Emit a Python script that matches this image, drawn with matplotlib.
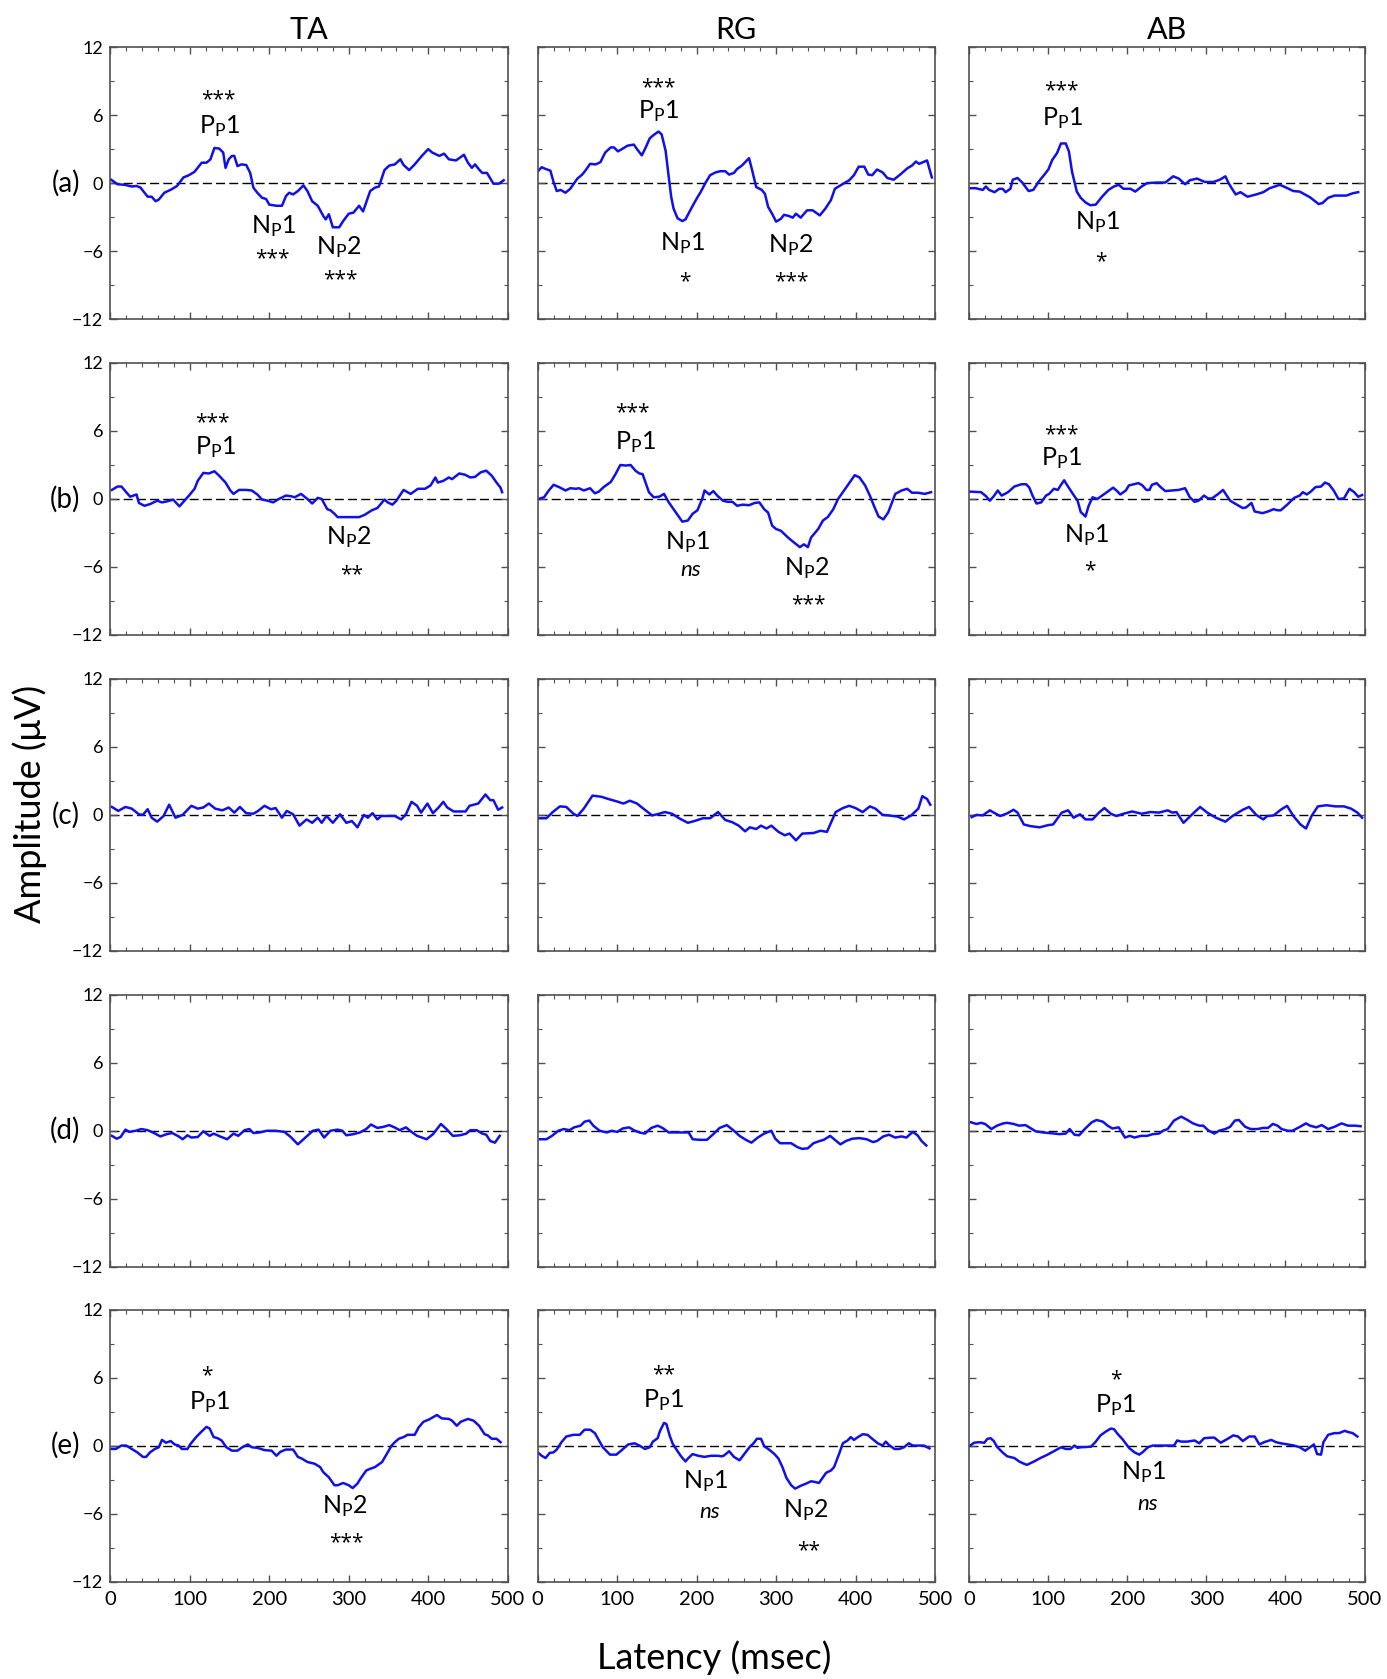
import matplotlib
matplotlib.use('Agg')
import matplotlib.pyplot as plt
from matplotlib.ticker import MultipleLocator
import matplotlib.transforms as mtrans

plt.rcParams['font.family'] = ['Lato', 'DejaVu Sans']
plt.rcParams['mathtext.default'] = 'regular'

# ---------------- labels ----------------
columns = ['TA', 'RG', 'AB']
rows = ['(a)', '(b)', '(c)', '(d)', '(e)']
x_ticks = [0, 100, 200, 300, 400, 500]
y_ticks = [-12, -6, 0, 6, 12]

# ---------------- data: (latency ms, amplitude uV) ----------------
TA_a = [(1,0.3),(9,-0.1),(18,-0.15),(27,-0.3),(33,-0.25),(38,-0.4),(47,-1.2),(52,-1.2),(57,-1.6),(61,-1.45),
        (68,-0.85),(77,-0.55),(84,-0.25),(92,0.5),(99,0.7),(106,1.0),(115,1.8),(121,1.8),(126,2.1),(131,3.1),
        (137,3.05),(142,2.7),(145,1.35),(149,2.1),(153,2.4),(156,2.4),(160,1.5),(165,1.65),(171,1.6),(176,0.9),
        (180,-0.4),(185,-0.85),(191,-1.3),(196,-1.4),(200,-1.9),(209,-2.0),(216,-2.0),(221,-1.15),(225,-0.85),(230,-1.0),
        (236,-0.7),(243,-0.2),(248,-0.7),(254,-1.6),(261,-2.0),(268,-2.9),(271,-3.2),(275,-2.75),(280,-3.9),(288,-3.9),
        (293,-3.35),(300,-2.7),(306,-2.6),(313,-2.0),(318,-2.5),(322,-1.7),(327,-0.7),(333,-0.4),(338,-0.3),(345,1.15),
        (351,1.55),(358,1.65),(365,2.1),(369,1.6),(376,1.15),(383,1.65),(392,2.4),(400,3.0),(405,2.7),(414,2.4),
        (420,2.6),(426,2.1),(435,2.0),(445,2.5),(450,1.8),(455,1.35),(459,1.65),(464,1.2),(468,0.9),(474,0.9),
        (482,-0.05),(489,-0.05),(495,0.25)]
RG_a = [(1,1.1),(5,1.4),(10,1.25),(16,1.1),(20,0.1),(24,-0.7),(29,-0.6),(35,-0.85),(41,-0.5),(50,0.4),(56,0.75),
        (60,1.1),(66,1.7),(73,1.65),(79,1.85),(85,2.7),(92,3.15),(96,3.15),(101,2.8),(106,3.0),(113,3.3),(121,3.4),
        (125,3.0),(131,2.45),(136,3.15),(141,3.95),(146,4.25),(152,4.55),(156,4.3),(161,2.85),(165,0.5),(168,-1.2),
        (171,-2.25),(176,-3.1),(182,-3.35),(186,-3.2),(192,-2.4),(199,-1.5),(205,-0.8),(211,0.0),(217,0.7),(224,0.95),
        (230,1.05),(236,1.05),(241,0.75),(247,0.9),(251,1.25),(257,1.55),(266,2.2),(270,1.1),(275,-0.35),(282,-0.6),
        (286,-0.95),(290,-2.1),(295,-2.7),(300,-3.4),(306,-3.15),(310,-2.8),(316,-2.9),(321,-3.05),(325,-2.7),(331,-3.05),
        (339,-2.4),(346,-2.4),(355,-2.85),(362,-2.25),(369,-1.5),(374,-0.5),(381,-0.2),(392,0.25),(398,0.7),(404,1.45),
        (411,1.45),(416,0.75),(421,0.7),(427,1.2),(434,0.95),(440,0.45),(448,0.3),(457,0.8),(465,1.3),(471,1.55),
        (476,1.9),(480,1.7),(490,2.0),(496,0.5)]
AB_a = [(0,-0.45),(8,-0.45),(17,-0.6),(21,-0.3),(25,-0.6),(32,-0.8),(38,-0.5),(42,-0.5),(46,-0.8),(52,-0.5),
        (55,0.3),(61,0.45),(67,0.05),(75,-0.7),(81,-0.6),(88,0.15),(95,0.75),(100,1.2),(105,2.05),(111,2.65),
        (116,3.5),(122,3.5),(126,2.8),(130,1.0),(136,-0.75),(141,-1.3),(147,-1.7),(153,-1.95),(160,-1.9),(168,-1.2),
        (176,-0.6),(183,-0.3),(189,-0.15),(195,-0.5),(204,-0.5),(210,-0.75),(218,-0.3),(225,0.0),(237,0.05),(248,0.05),
        (258,0.6),(265,0.4),(273,-0.1),(279,0.25),(288,0.4),(298,0.1),(309,0.1),(317,0.3),(324,0.6),(328,0.0),
        (332,-0.45),(337,-1.0),(343,-0.8),(352,-1.2),(363,-1.0),(372,-0.8),(380,-0.45),(393,-0.15),(401,-0.4),(410,-0.7),
        (418,-0.75),(431,-1.25),(442,-1.85),(447,-1.75),(454,-1.3),(462,-1.1),(477,-1.1),(485,-0.9),(492,-0.8)]

TA_b = [(2,0.8),(9,1.1),(14,1.1),(20,0.6),(25,0.2),(33,0.4),(36,-0.35),(43,-0.6),(50,-0.45),(59,-0.15),(65,-0.3),
        (72,-0.2),(79,-0.05),(87,-0.65),(92,-0.25),(99,0.3),(106,0.9),(110,1.6),(117,2.3),(124,2.25),(131,2.45),
        (137,2.05),(145,1.45),(151,0.75),(155,0.45),(162,0.8),(171,0.8),(178,0.75),(185,0.4),(191,-0.05),(198,-0.15),
        (205,-0.3),(212,0.0),(221,0.3),(227,0.25),(232,0.15),(240,0.45),(248,0.0),(254,-0.4),(261,0.1),(266,0.0),
        (273,-0.9),(277,-1.0),(282,-1.3),(286,-1.6),(313,-1.6),(320,-1.4),(329,-1.0),(336,-0.8),(345,-0.05),(349,-0.3),
        (355,-0.5),(360,-0.15),(369,0.8),(374,0.6),(378,0.45),(387,0.9),(396,0.9),(403,1.2),(409,1.9),(412,1.45),
        (419,1.6),(426,1.9),(430,1.75),(439,2.25),(446,2.15),(453,1.9),(459,1.95),(466,2.35),(473,2.5),(480,2.05),
        (486,1.45),(491,1.0),(493,0.6)]
RG_b = [(1,0.0),(8,0.15),(14,0.75),(20,1.25),(27,1.05),(35,0.75),(41,0.95),(48,0.9),(52,0.95),(58,0.75),(66,0.95),
        (72,0.5),(77,0.65),(83,1.05),(92,1.5),(98,2.2),(104,3.0),(111,2.95),(117,3.0),(123,2.5),(128,2.25),(132,2.2),
        (140,0.6),(146,0.15),(153,0.2),(159,0.45),(165,-0.3),(174,-1.2),(182,-2.0),(189,-1.9),(195,-1.3),(201,-1.0),
        (207,0.0),(210,0.75),(216,0.4),(221,0.7),(226,0.3),(233,-0.15),(239,-0.25),(245,-0.25),(251,-0.6),(258,-0.5),
        (266,-0.55),(273,-0.35),(279,-0.3),(285,-0.9),(290,-1.2),(295,-2.35),(300,-2.65),(306,-2.8),(315,-3.4),(321,-3.75),
        (330,-4.25),(335,-4.0),(340,-4.25),(344,-3.4),(353,-2.65),(359,-1.9),(365,-1.6),(372,-0.9),(378,0.0),(384,0.6),
        (391,1.3),(399,2.1),(405,1.9),(412,1.2),(418,0.3),(424,-0.75),(429,-1.55),(435,-1.8),(441,-1.2),(450,0.45),
        (458,0.75),(465,0.9),(471,0.55),(479,0.55),(487,0.45),(495,0.6)]
AB_b = [(1,0.65),(15,0.6),(21,0.25),(26,-0.15),(31,0.25),(36,0.75),(41,0.3),(49,0.6),(57,1.1),(66,1.3),(72,1.3),
        (76,1.0),(80,0.3),(85,-0.4),(91,-0.3),(97,0.3),(101,0.45),(107,0.9),(112,0.8),(116,1.25),(120,1.65),(124,1.2),
        (131,0.45),(137,-0.15),(141,-1.15),(147,-1.55),(151,-0.6),(156,0.15),(162,0.0),(168,0.3),(175,0.65),(182,1.0),
        (187,0.7),(191,0.4),(198,0.75),(202,1.2),(208,1.3),(214,1.4),(219,1.2),(224,0.8),(228,0.8),(231,1.25),(237,1.4),
        (242,1.05),(248,0.7),(256,0.75),(265,0.8),(273,0.95),(279,0.15),(285,-0.25),(290,-0.15),(297,0.3),(302,0.05),
        (307,0.05),(315,0.45),(321,0.8),(330,-0.15),(336,-0.4),(346,-0.8),(350,-0.75),(357,-0.35),(361,-1.1),(371,-1.25),
        (378,-1.1),(385,-0.9),(390,-1.0),(394,-1.0),(403,-0.45),(411,0.1),(418,0.3),(422,0.6),(427,0.4),(432,0.65),
        (438,1.05),(445,1.1),(450,1.45),(455,1.3),(461,0.75),(467,0.0),(474,0.05),(481,0.9),(487,0.6),(492,0.2),(497,0.35)]

TA_c = [(2,0.7),(10,0.35),(19,0.7),(27,0.55),(36,0.05),(41,0.0),(47,0.5),(52,-0.25),(59,-0.6),(67,-0.1),(74,0.9),
        (82,-0.25),(91,0.0),(102,0.8),(110,0.55),(117,0.65),(124,1.0),(132,0.55),(141,0.4),(149,0.65),(156,0.2),
        (163,0.7),(171,0.15),(180,0.1),(186,0.35),(194,0.8),(202,0.5),(208,0.6),(216,-0.25),(222,0.35),(230,0.05),
        (238,-0.95),(247,-0.4),(254,-0.7),(261,-0.25),(266,-0.7),(272,-0.1),(280,-0.7),(289,0.05),(297,-0.7),(304,-0.55),
        (311,-1.1),(319,0.0),(324,-0.25),(330,0.15),(336,-0.4),(341,-0.1),(349,-0.1),(358,-0.1),(366,-0.4),(372,0.05),
        (379,1.15),(386,0.8),(391,0.2),(399,1.0),(406,0.15),(413,0.65),(419,1.15),(424,0.65),(432,0.3),(447,0.3),
        (452,0.8),(463,1.0),(472,1.8),(478,1.3),(482,1.3),(488,0.45),(493,0.65)]
RG_c = [(2,-0.3),(11,-0.3),(19,0.25),(28,0.75),(36,0.7),(45,0.1),(50,-0.1),(58,0.55),(69,1.7),(80,1.6),(89,1.4),
        (99,1.2),(108,1.0),(116,1.25),(125,1.0),(133,0.55),(144,-0.05),(153,0.1),(160,0.25),(169,0.1),(178,-0.3),
        (189,-0.7),(197,-0.55),(208,-0.3),(217,-0.3),(227,0.25),(236,-0.45),(245,-0.65),(253,-0.95),(261,-1.45),(267,-1.1),
        (275,-1.25),(281,-0.95),(288,-1.2),(294,-0.95),(303,-1.5),(311,-1.8),(317,-1.65),(325,-2.25),(333,-1.65),(347,-1.6),
        (356,-1.4),(364,-1.5),(375,0.25),(384,0.6),(392,0.8),(400,0.6),(409,0.25),(418,0.75),(425,0.55),(434,0.0),
        (442,-0.05),(453,-0.15),(461,-0.4),(470,-0.05),(479,0.55),(484,1.65),(490,1.4),(494,0.9)]
AB_c = [(3,-0.2),(9,0.0),(17,-0.05),(26,0.4),(31,0.2),(39,-0.1),(47,0.1),(56,0.45),(61,0.2),(69,-0.85),(78,-1.0),
        (89,-1.1),(100,-0.9),(106,-0.85),(117,0.2),(125,0.4),(132,-0.25),(140,0.05),(147,-0.4),(156,-0.4),(164,0.2),
        (171,0.6),(179,0.1),(186,-0.1),(195,0.1),(206,0.3),(218,0.1),(229,0.25),(240,0.2),(251,0.4),(257,0.2),
        (262,0.25),(271,-0.7),(282,0.05),(292,0.7),(301,0.2),(312,-0.25),(324,-0.6),(333,-0.1),(346,0.45),(354,0.7),
        (363,0.0),(372,-0.4),(377,-0.1),(385,-0.05),(394,0.45),(402,0.8),(410,-0.1),(419,-0.85),(426,-1.2),(433,-0.1),
        (441,0.75),(452,0.85),(463,0.75),(474,0.75),(483,0.55),(491,0.2),(497,-0.25)]

TA_d = [(2,-0.45),(8,-0.7),(13,-0.55),(19,0.1),(24,-0.1),(32,0.0),(39,0.15),(47,0.05),(55,-0.2),(63,-0.5),(71,-0.3),
        (78,-0.2),(86,-0.5),(91,-0.75),(97,-0.4),(102,-0.6),(110,-0.55),(117,-0.05),(125,-0.45),(130,-0.25),(138,-0.5),
        (147,-0.75),(155,-0.25),(161,-0.45),(169,0.05),(175,0.15),(180,-0.2),(188,-0.15),(197,0.0),(208,0.0),(219,-0.1),
        (227,-0.55),(236,-1.2),(247,-0.5),(255,0.0),(262,0.1),(269,-0.6),(277,0.0),(286,0.1),(292,0.0),(297,-0.4),
        (306,-0.3),(314,-0.15),(322,0.15),(328,0.55),(336,0.25),(344,0.35),(351,0.5),(359,0.25),(364,0.05),(372,0.3),
        (379,-0.1),(386,-0.45),(398,-0.75),(406,-0.3),(416,0.6),(423,0.15),(431,-0.45),(440,-0.4),(448,-0.25),(453,0.05),
        (461,0.05),(468,-0.25),(473,-0.35),(478,-0.9),(484,-1.05),(490,-0.45)]
RG_d = [(3,-0.75),(11,-0.75),(18,-0.45),(26,0.0),(33,0.15),(40,0.05),(46,0.3),(54,0.45),(59,0.8),(65,0.9),(70,0.45),
        (78,0.0),(87,-0.15),(93,0.0),(100,-0.1),(107,0.2),(115,0.3),(121,0.05),(128,-0.15),(135,-0.25),(143,0.25),
        (151,0.45),(157,0.25),(165,-0.15),(173,-0.15),(182,-0.15),(190,-0.15),(195,-0.75),(204,-0.8),(213,-0.8),(221,-0.3),
        (229,0.25),(238,0.5),(247,0.0),(254,-0.45),(262,-0.8),(269,-1.05),(277,-0.6),(285,-0.25),(294,0.0),(299,-0.7),
        (305,-1.1),(312,-1.1),(319,-1.1),(327,-1.45),(333,-1.6),(340,-1.55),(347,-1.1),(355,-0.9),(360,-0.8),(368,-0.45),
        (374,-0.8),(381,-1.2),(388,-0.9),(396,-0.7),(405,-0.65),(414,-0.75),(422,-1.0),(427,-0.9),(435,-0.5),(442,-0.35),
        (450,-0.6),(458,-0.5),(464,-0.6),(472,-0.1),(478,-0.4),(483,-0.9),(489,-1.3)]
AB_d = [(2,0.75),(9,0.6),(15,0.7),(20,0.6),(28,0.15),(35,0.45),(43,0.65),(48,0.7),(56,0.6),(63,0.45),(71,0.5),
        (77,0.25),(84,-0.05),(93,-0.15),(101,-0.2),(108,-0.25),(114,-0.3),(122,-0.25),(127,0.15),(133,-0.35),(139,-0.4),
        (146,0.15),(155,0.75),(161,0.95),(169,0.8),(175,0.45),(181,0.2),(189,0.3),(197,-0.6),(203,-0.45),(209,-0.6),
        (217,-0.45),(225,-0.45),(232,-0.3),(240,-0.25),(245,0.0),(251,0.15),(259,0.9),(268,1.25),(276,0.95),(283,0.65),
        (291,0.45),(296,0.45),(302,0.05),(310,-0.25),(316,0.0),(324,0.15),(330,0.35),(336,0.9),(341,0.95),(349,0.35),
        (356,0.15),(364,0.15),(372,0.25),(378,0.25),(384,0.6),(390,0.45),(395,0.15),(403,0.0),(409,0.0),(417,0.3),
        (426,0.65),(431,0.45),(439,0.3),(446,0.5),(454,0.15),(462,0.35),(471,0.65),(479,0.45),(488,0.45),(495,0.4)]

TA_e = [(1,-0.3),(7,-0.3),(14,0.0),(20,0.0),(27,-0.3),(34,-0.6),(41,-1.0),(45,-1.0),(50,-0.6),(56,-0.3),(61,-0.15),
        (65,0.5),(70,0.25),(76,0.4),(81,0.1),(86,0.0),(90,-0.3),(97,-0.3),(101,0.15),(108,0.75),(115,1.25),(121,1.65),
        (125,1.5),(130,0.75),(135,0.65),(140,0.45),(146,-0.15),(153,-0.45),(160,-0.45),(166,-0.15),(173,0.1),(178,-0.15),
        (185,-0.2),(194,-0.4),(203,-0.45),(209,-0.9),(214,-0.55),(221,-0.35),(230,-0.35),(236,-1.0),(241,-1.15),(248,-1.45),
        (257,-1.6),(264,-1.9),(268,-2.35),(275,-2.8),(282,-3.5),(286,-3.5),(293,-3.3),(300,-3.5),(305,-3.75),(311,-3.35),
        (315,-2.9),(322,-2.2),(327,-2.05),(333,-1.9),(342,-1.45),(349,-0.6),(354,0.0),(358,0.3),(363,0.6),(369,0.75),
        (374,0.95),(383,0.95),(388,1.6),(394,2.1),(401,2.3),(406,2.5),(411,2.7),(417,2.4),(426,2.35),(430,2.2),
        (436,1.75),(441,2.1),(450,2.35),(457,2.2),(464,1.75),(471,1.0),(475,0.9),(480,0.6),(486,0.6),(491,0.3)]
RG_e = [(1,-0.65),(5,-0.9),(10,-1.1),(15,-0.65),(20,-0.6),(24,-0.35),(30,0.3),(36,0.8),(45,0.95),(53,0.95),(59,1.4),
        (66,1.4),(72,1.1),(76,0.6),(82,-0.15),(91,-0.8),(99,-0.8),(105,-0.45),(114,0.1),(122,0.2),(128,0.0),(135,-0.3),
        (141,-0.15),(145,0.35),(151,0.65),(154,1.3),(159,2.0),(162,1.9),(166,0.9),(170,0.15),(177,-0.6),(181,-1.0),
        (186,-1.4),(189,-1.15),(195,-0.75),(202,-0.9),(210,-1.0),(218,-0.9),(227,-0.9),(231,-0.95),(234,-0.9),(241,-0.5),
        (247,-1.0),(254,-1.3),(260,-0.75),(267,-0.1),(271,0.15),(276,0.6),(281,0.6),(285,-0.05),(292,-0.4),(298,-0.75),
        (303,-1.15),(308,-1.9),(313,-2.85),(319,-3.5),(324,-3.8),(331,-3.55),(338,-3.35),(344,-3.15),(348,-3.2),(354,-3.3),
        (359,-2.8),(363,-2.4),(369,-2.2),(373,-1.9),(380,-0.6),(384,0.2),(390,0.45),(394,0.75),(398,0.5),(403,0.75),
        (409,1.0),(415,0.95),(421,0.6),(428,0.2),(434,0.0),(438,0.35),(442,0.05),(449,-0.3),(455,-0.3),(461,-0.15),
        (467,0.2),(472,0.0),(480,0.0),(486,0.0),(493,-0.25)]
AB_e = [(1,0.0),(6,0.25),(12,0.3),(19,0.25),(23,0.6),(27,0.65),(31,0.4),(35,-0.1),(42,-0.6),(48,-0.95),(57,-1.1),
        (63,-1.4),(69,-1.6),(73,-1.7),(82,-1.4),(90,-1.1),(99,-0.8),(107,-0.5),(116,-0.15),(122,-0.3),(128,-0.3),
        (133,0.0),(137,-0.2),(141,-0.15),(154,-0.1),(160,0.35),(166,0.9),(173,1.25),(179,1.5),(183,1.45),(188,1.0),
        (194,0.55),(202,-0.2),(209,-0.6),(215,-0.8),(219,-0.6),(226,-0.15),(232,0.0),(259,0.0),(263,0.45),(268,0.35),
        (276,0.35),(285,0.45),(291,0.2),(297,0.65),(306,0.7),(310,0.7),(318,0.25),(327,0.6),(334,0.9),(340,0.8),
        (346,0.4),(354,0.8),(361,0.8),(367,0.1),(373,0.3),(382,0.5),(388,0.3),(394,0.2),(403,0.1),(411,0.0),
        (418,-0.15),(425,-0.45),(430,-0.2),(436,0.1),(440,-0.75),(445,-0.8),(448,0.3),(454,0.95),(462,1.1),(468,1.1),
        (475,1.3),(479,1.2),(485,1.1),(491,0.8)]

traces = [[TA_a, RG_a, AB_a],
          [TA_b, RG_b, AB_b],
          [TA_c, RG_c, AB_c],
          [TA_d, RG_d, AB_d],
          [TA_e, RG_e, AB_e]]

# component labels and significance marks: (row, col, text, latency, amplitude)
components = [
    (0, 0, 'P1', 137, 5.0), (0, 0, 'N1', 205, -3.8), (0, 0, 'N2', 288, -5.6),
    (0, 1, 'P1', 152, 6.4), (0, 1, 'N1', 183, -5.3), (0, 1, 'N2', 318, -5.5),
    (0, 2, 'P1', 118, 5.7), (0, 2, 'N1', 162, -3.45),
    (1, 0, 'P1', 132, 4.55), (1, 0, 'N2', 300, -3.4),
    (1, 1, 'P1', 123, 5.05), (1, 1, 'N1', 189, -3.8), (1, 1, 'N2', 339, -6.05),
    (1, 2, 'P1', 117, 3.6), (1, 2, 'N1', 149, -3.2),
    (4, 0, 'P1', 125, 3.8), (4, 0, 'N2', 295, -5.3),
    (4, 1, 'P1', 159, 4.0), (4, 1, 'N1', 211, -3.1), (4, 1, 'N2', 338, -5.65),
    (4, 2, 'P1', 185, 3.55), (4, 2, 'N1', 220, -2.3),
]
significance = [
    (0, 0, '***', 136, 7.4), (0, 0, '***', 204, -6.1), (0, 0, '***', 289, -8.0),
    (0, 1, '***', 152, 8.5), (0, 1, '*', 185, -8.1), (0, 1, '***', 319, -8.1),
    (0, 2, '***', 116, 8.25), (0, 2, '*', 167, -6.4),
    (1, 0, '***', 129, 6.8), (1, 0, '**', 303, -6.1),
    (1, 1, '***', 119, 7.65), (1, 1, 'ns', 193, -6.3), (1, 1, '***', 340, -8.8),
    (1, 2, '***', 116, 5.7), (1, 2, '*', 152, -5.8),
    (4, 0, '*', 121, 6.2), (4, 0, '***', 297, -8.0),
    (4, 1, '**', 158, 6.3), (4, 1, 'ns', 216, -5.85), (4, 1, '**', 341, -8.7),
    (4, 2, '*', 185, 5.9), (4, 2, 'ns', 226, -5.2),
]
comp_text = {'P1': r'$P_P1$', 'N1': r'$N_P1$', 'N2': r'$N_P2$'}

# ---------------- figure ----------------
W, H = 1387, 1679
fig = plt.figure(figsize=(W / 100, H / 100), dpi=100)

lefts = [103 / 1295, 502 / 1295, 905 / 1295]
widths = [371 / 1295, 371 / 1295, 369 / 1295]
tops = [44, 339, 634, 929, 1223]
ax_h = 254 / 1568

line_color = '#1010e8'
spine_color = '#505050'
axes = [[None] * 3 for _ in range(5)]
for r in range(5):
    for c in range(3):
        bottom = 1 - (tops[r] + 254) / 1568
        ax = fig.add_axes([lefts[c], bottom, widths[c], ax_h])
        axes[r][c] = ax
        ax.set_xlim(0, 500)
        ax.set_ylim(-12, 12)
        ax.axhline(0, color='black', lw=1.0, dashes=(6.5, 3.0), zorder=1)
        xs = [p[0] for p in traces[r][c]]
        ys = [p[1] for p in traces[r][c]]
        ax.plot(xs, ys, color=line_color, lw=1.8, zorder=2)
        ax.set_xticks(x_ticks)
        ax.set_yticks(y_ticks)
        ax.xaxis.set_minor_locator(MultipleLocator(20))
        ax.yaxis.set_minor_locator(MultipleLocator(3))
        ax.tick_params(which='both', direction='in', top=True, right=True,
                       color=spine_color, labelsize=13, pad=5)
        ax.tick_params(which='major', length=5, width=1.0)
        ax.tick_params(which='minor', length=3, width=0.8)
        ax.tick_params(axis='x', pad=7, labelsize=14.5)
        ax.tick_params(labelleft=(c == 0), labelbottom=(r == 4))
        for sp in ax.spines.values():
            sp.set_color(spine_color)
            sp.set_linewidth(1.2)
        if c == 0:
            tr = mtrans.blended_transform_factory(ax.transAxes, ax.transData)
            ax.text(-0.076, 0, rows[r], transform=tr, ha='right', va='center', fontsize=20)

for (r, c, key, x, y) in components:
    axes[r][c].text(x, y, comp_text[key], ha='center', va='center', fontsize=18, zorder=3)
for (r, c, s, x, y) in significance:
    if s == 'ns':
        axes[r][c].text(x, y, s, ha='center', va='center', fontsize=16, style='italic', zorder=3)
    else:
        # asterisks sit high in the glyph box: anchor at the baseline
        shift = 0.5 if y > 0 else 0.0
        axes[r][c].text(x, y - 1.05 + shift, s, ha='center', va='baseline', fontsize=15,
                        family=['Open Sans', 'DejaVu Sans'], zorder=3)

for c in range(3):
    cx = lefts[c] + widths[c] / 2
    fig.text(cx, 1 - 36 / 1568, columns[c], ha='center', va='baseline', fontsize=22)

fig.text(0.0216, 0.521, 'Amplitude (μV)', rotation=90, ha='center', va='center', fontsize=26)
fig.text(0.515, 0.0058, 'Latency (msec)', ha='center', va='baseline', fontsize=26)

fig.savefig('out.png', dpi=100)
